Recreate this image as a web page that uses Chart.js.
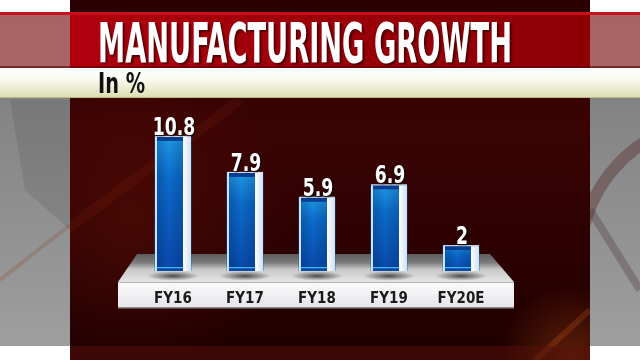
<!DOCTYPE html>
<html><head><meta charset="utf-8">
<script src="https://cdn.jsdelivr.net/npm/chart.js@4.4.1/dist/chart.umd.min.js"></script>
<style>html,body{margin:0;padding:0;background:#fff;overflow:hidden}canvas{display:block}</style>
</head><body>
<canvas id="c" width="640" height="360"></canvas>
<script>
const categories = ['FY16', 'FY17', 'FY18', 'FY19', 'FY20E'];
const growthValues = [10.8, 7.9, 5.9, 6.9, 2];
const valueLabels = ['10.8', '7.9', '5.9', '6.9', '2'];
const titleText = 'MANUFACTURING GROWTH';
const unitText = 'In %';

const COND = '"Liberation Sans Narrow", "DejaVu Sans Condensed", Roboto, sans-serif';

function fitText(ctx, text, x, baseline, targetW) {
  const w = ctx.measureText(text).width;
  ctx.save();
  ctx.translate(x, baseline);
  ctx.scale(targetW / w, 1);
  ctx.fillText(text, 0, 0);
  ctx.restore();
}

function drawBackdrop(chart) {
  const ctx = chart.ctx;
  ctx.save();
  // grey side areas
  let g = ctx.createLinearGradient(0, 0, 0, 360);
  g.addColorStop(0, '#787878'); g.addColorStop(1, '#a0a0a0');
  ctx.fillStyle = g; ctx.fillRect(0, 0, 640, 360);
  // decorative streaks on the sides
  ctx.strokeStyle = 'rgba(80,40,40,0.4)'; ctx.lineWidth = 12;
  ctx.beginPath(); ctx.arc(720, 260, 140, Math.PI * 1.08, Math.PI * 1.38); ctx.stroke();
  ctx.strokeStyle = 'rgba(70,45,45,0.3)'; ctx.lineWidth = 8;
  ctx.beginPath(); ctx.moveTo(590, 210); ctx.lineTo(640, 290); ctx.stroke();
  ctx.strokeStyle = 'rgba(140,90,60,0.3)'; ctx.lineWidth = 4;
  ctx.beginPath(); ctx.moveTo(0, 280); ctx.lineTo(70, 225); ctx.stroke();
  ctx.fillStyle = 'rgba(60,60,60,0.15)';
  ctx.beginPath(); ctx.moveTo(10, 100); ctx.lineTo(70, 100); ctx.lineTo(70, 230); ctx.lineTo(25, 190); ctx.closePath(); ctx.fill();
  // white strips
  ctx.fillStyle = '#ffffff';
  ctx.fillRect(0, 0, 640, 12);
  ctx.fillRect(0, 346, 640, 14);

  // central dark red panel
  g = ctx.createLinearGradient(0, 0, 0, 360);
  g.addColorStop(0, '#2a0000'); g.addColorStop(0.35, '#3a0303'); g.addColorStop(0.75, '#2a0101'); g.addColorStop(1, '#1c0000');
  ctx.fillStyle = g; ctx.fillRect(70, 0, 520, 360);
  let r = ctx.createRadialGradient(130, 220, 5, 130, 220, 160);
  r.addColorStop(0, 'rgba(120,25,10,0.3)'); r.addColorStop(1, 'rgba(120,25,10,0)');
  ctx.fillStyle = r; ctx.fillRect(70, 0, 520, 360);
  r = ctx.createRadialGradient(570, 355, 5, 570, 355, 70);
  r.addColorStop(0, 'rgba(190,80,20,0.35)'); r.addColorStop(1, 'rgba(190,80,20,0)');
  ctx.fillStyle = r; ctx.fillRect(70, 0, 520, 360);
  // diagonal glow streak
  ctx.save();
  ctx.beginPath(); ctx.rect(70, 98, 520, 262); ctx.clip();
  ctx.strokeStyle = 'rgba(150,50,20,0.15)'; ctx.lineWidth = 10;
  ctx.beginPath(); ctx.moveTo(40, 250); ctx.lineTo(240, 100); ctx.stroke();
  ctx.strokeStyle = 'rgba(200,90,30,0.25)'; ctx.lineWidth = 6;
  ctx.beginPath(); ctx.moveTo(530, 365); ctx.lineTo(590, 310); ctx.stroke();
  ctx.restore();
  // bottom band of panel
  ctx.fillStyle = 'rgba(90,15,10,0.5)'; ctx.fillRect(70, 346, 520, 14);

  // title band
  ctx.fillStyle = 'rgba(180,95,95,0.8)'; ctx.fillRect(0, 12, 640, 56);
  g = ctx.createLinearGradient(70, 0, 590, 0);
  g.addColorStop(0, '#b0000e'); g.addColorStop(0.5, '#9a0008'); g.addColorStop(1, '#8e0006');
  ctx.fillStyle = g; ctx.fillRect(70, 12, 520, 56);
  ctx.fillStyle = '#c8101c'; ctx.fillRect(0, 12, 640, 3);
  ctx.fillStyle = 'rgba(90,0,0,0.6)'; ctx.fillRect(0, 66, 640, 2);

  // cream subtitle band
  g = ctx.createLinearGradient(0, 68, 0, 98);
  g.addColorStop(0, '#ffffff'); g.addColorStop(0.35, '#fbfbf2'); g.addColorStop(1, '#dcdcae');
  ctx.fillStyle = g; ctx.fillRect(0, 68, 640, 30);
  ctx.fillStyle = '#b8b888'; ctx.fillRect(0, 97, 640, 1);

  // title text
  ctx.font = 'bold 56px ' + COND;
  ctx.textBaseline = 'alphabetic';
  ctx.shadowColor = 'rgba(50,0,0,0.75)'; ctx.shadowOffsetX = 2; ctx.shadowOffsetY = 2; ctx.shadowBlur = 2;
  g = ctx.createLinearGradient(0, 22, 0, 62);
  g.addColorStop(0, '#ffffff'); g.addColorStop(0.5, '#fbe6ec'); g.addColorStop(1, '#eeaabb');
  ctx.fillStyle = g;
  fitText(ctx, titleText, 98, 62, 414);
  ctx.shadowColor = 'transparent';
  // unit text
  ctx.font = 'bold 28px ' + COND;
  ctx.fillStyle = '#111111';
  fitText(ctx, unitText, 98, 93, 47);

  // platform top surface
  g = ctx.createLinearGradient(0, 254, 0, 282);
  g.addColorStop(0, '#5c5c5c'); g.addColorStop(0.3, '#7a7a7a'); g.addColorStop(0.55, '#c8c8c8'); g.addColorStop(1, '#e4e4e4');
  ctx.fillStyle = g;
  ctx.beginPath(); ctx.moveTo(137, 254); ctx.lineTo(490, 254); ctx.lineTo(514, 282); ctx.lineTo(118, 282); ctx.closePath(); ctx.fill();
  // platform front face
  g = ctx.createLinearGradient(0, 282, 0, 308);
  g.addColorStop(0, '#fbfbfd'); g.addColorStop(1, '#e6e6ea');
  ctx.fillStyle = g; ctx.fillRect(118, 282, 396, 26);
  ctx.fillStyle = '#b4b4b4'; ctx.fillRect(118, 282, 396, 1);
  ctx.fillStyle = '#8c8c8c'; ctx.fillRect(118, 307, 396, 1.5);
  ctx.restore();
}

const backdropPlugin = {
  id: 'backdrop',
  beforeDraw(chart) { drawBackdrop(chart); },
  beforeDatasetsDraw(chart) {
    const ctx = chart.ctx;
    const meta = chart.getDatasetMeta(0);
    ctx.save();
    meta.data.forEach(b => {
      const cx = b.x, cy = b.base + 5;
      ctx.save();
      ctx.translate(cx, cy); ctx.scale(1, 0.18);
      const rg = ctx.createRadialGradient(0, 0, 0, 0, 0, 26);
      rg.addColorStop(0, 'rgba(0,0,0,0.65)'); rg.addColorStop(1, 'rgba(0,0,0,0)');
      ctx.fillStyle = rg;
      ctx.beginPath(); ctx.arc(0, 0, 26, 0, Math.PI * 2); ctx.fill();
      ctx.restore();
    });
    ctx.restore();
  },
  afterDatasetsDraw(chart) {
    const ctx = chart.ctx;
    const meta = chart.getDatasetMeta(0);
    ctx.save();
    meta.data.forEach((b, i) => {
      const L = b.x - b.width / 2, R = b.x + b.width / 2;
      const sideW = 8, fR = R - sideW;
      const top = b.y, bot = b.base;
      // front face
      let g = ctx.createLinearGradient(0, top, 0, bot);
      g.addColorStop(0, '#1e9ae6'); g.addColorStop(0.3, '#0c6ccc'); g.addColorStop(1, '#0849ab');
      ctx.fillStyle = g; ctx.fillRect(L, top, fR - L, bot - top);
      let h = ctx.createLinearGradient(L, 0, fR, 0);
      h.addColorStop(0, 'rgba(0,20,80,0.25)'); h.addColorStop(0.5, 'rgba(0,0,0,0)'); h.addColorStop(1, 'rgba(0,20,80,0.2)');
      ctx.fillStyle = h; ctx.fillRect(L, top, fR - L, bot - top);
      ctx.fillStyle = 'rgba(215,235,250,0.95)'; ctx.fillRect(L, top, 2, bot - top);
      // side face
      let s = ctx.createLinearGradient(fR, 0, R, 0);
      s.addColorStop(0, '#ffffff'); s.addColorStop(1, '#cfe0f0');
      ctx.fillStyle = s; ctx.fillRect(fR, top, sideW, bot - top);
      // top cap
      ctx.fillStyle = '#0a3c90'; ctx.fillRect(L + 2, top, fR - L - 2, 4);
      ctx.fillStyle = '#e6f2fc'; ctx.fillRect(L, top - 1, R - L, 1);
      // bottom highlight
      ctx.fillStyle = '#3cb8f2'; ctx.fillRect(L + 2, bot - 4, fR - L - 2, 1.5);
      ctx.fillStyle = '#0a4aa6'; ctx.fillRect(L + 2, bot - 2.5, fR - L - 2, 2.5);
      // value label
      ctx.font = 'bold 24px ' + COND;
      ctx.textAlign = 'center'; ctx.textBaseline = 'alphabetic';
      ctx.shadowColor = 'rgba(0,0,0,0.8)'; ctx.shadowOffsetX = 1; ctx.shadowOffsetY = 1; ctx.shadowBlur = 2;
      ctx.fillStyle = '#ffffff';
      ctx.save();
      ctx.translate(b.x + 1, top - 2);
      ctx.scale(0.8, 1);
      ctx.fillText(valueLabels[i], 0, 0);
      ctx.restore();
      ctx.shadowColor = 'transparent';
    });
    ctx.restore();
  }
};

new Chart(document.getElementById('c'), {
  type: 'bar',
  data: {
    labels: categories,
    datasets: [{
      data: growthValues,
      backgroundColor: '#0b5fc2',
      borderWidth: 0,
      barThickness: 36
    }]
  },
  options: {
    responsive: false,
    animation: false,
    devicePixelRatio: 1,
    layout: { padding: { left: 137, right: 143, top: 122, bottom: 33 } },
    plugins: { legend: { display: false }, tooltip: { enabled: false }, title: { display: false } },
    scales: {
      y: { display: false, min: 0, max: 12 },
      x: {
        grid: { display: false, drawTicks: false, tickLength: 0 },
        border: { display: false },
        ticks: {
          color: '#1a1a1a',
          padding: 19,
          font: { family: COND, size: 15, weight: 'bold' }
        }
      }
    }
  },
  plugins: [backdropPlugin]
});
</script>
</body></html>
